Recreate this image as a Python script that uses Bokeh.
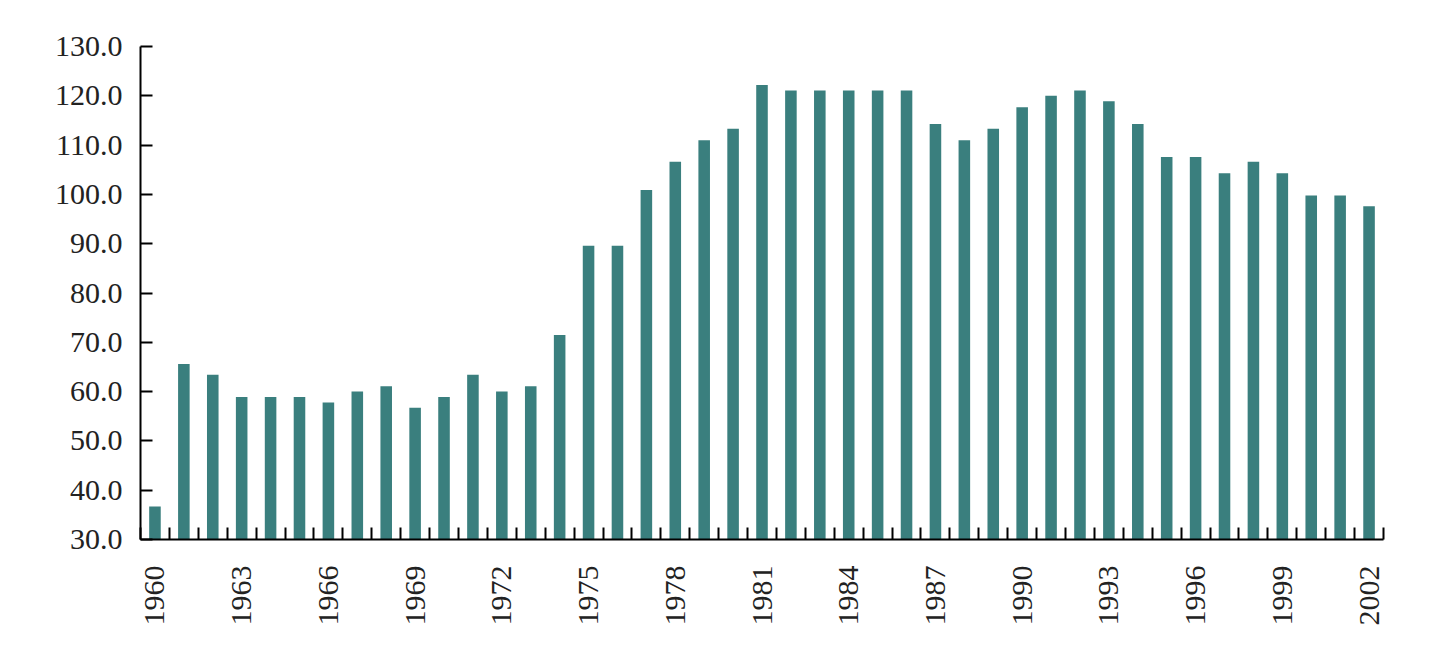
import math
from bokeh.plotting import figure
from bokeh.models import Range1d, FixedTicker, NumeralTickFormatter, ColumnDataSource
from bokeh.embed import file_html
from bokeh.resources import INLINE

years = list(range(1960, 2003))
values = [36.7, 65.6, 63.4, 58.9, 58.9, 58.9, 57.8, 60.0, 61.1, 56.7,
          58.9, 63.4, 60.0, 61.1, 71.5, 89.6, 89.6, 100.9, 106.6, 111.0,
          113.3, 122.2, 121.1, 121.1, 121.1, 121.1, 121.1, 114.3, 111.0, 113.3,
          117.7, 120.0, 121.1, 118.9, 114.3, 107.6, 107.6, 104.3, 106.6, 104.3,
          99.8, 99.8, 97.6]
y_ticks = [30, 40, 50, 60, 70, 80, 90, 100, 110, 120, 130]
label_years = [y for y in years if (y - 1960) % 3 == 0]

FONT = "'Liberation Serif', 'Times New Roman', serif"
BAR = "#3a7f7e"

idx = list(range(len(years)))
src = ColumnDataSource(dict(x=idx, top=values, year=[str(y) for y in years]))

p = figure(width=1429, height=653, output_backend="svg", toolbar_location=None,
           x_range=Range1d(-0.5, len(years) - 0.5), y_range=Range1d(30, 130),
           min_border_left=140, min_border_right=46, min_border_top=46,
           min_border_bottom=114)
p.outline_line_color = None
p.xgrid.grid_line_color = None
p.ygrid.grid_line_color = None

p.vbar(x="x", top="top", bottom=30, width=0.4, source=src,
       fill_color=BAR, line_color=None)

# x axis
xa = p.xaxis[0]
xa.ticker = FixedTicker(ticks=[years.index(y) for y in label_years],
                        minor_ticks=[i - 0.5 for i in range(len(years) + 1)])
xa.major_label_overrides = {years.index(y): str(y) for y in label_years}
xa.major_tick_line_color = None
xa.minor_tick_in = 12
xa.minor_tick_out = 0
xa.minor_tick_line_color = "black"
xa.minor_tick_line_width = 2
xa.axis_line_color = "black"
xa.axis_line_width = 2
xa.major_label_orientation = math.pi / 2
xa.major_label_standoff = 20
xa.major_label_text_font = FONT
xa.major_label_text_font_size = "30px"
xa.major_label_text_color = "#222222"

# y axis
ya = p.yaxis[0]
ya.ticker = FixedTicker(ticks=y_ticks, minor_ticks=[])
ya.formatter = NumeralTickFormatter(format="0.0")
ya.major_tick_in = 12
ya.major_tick_out = 0
ya.major_tick_line_color = "black"
ya.major_tick_line_width = 2
ya.minor_tick_line_color = None
ya.axis_line_color = "black"
ya.axis_line_width = 2
ya.major_label_standoff = 18
ya.major_label_text_font = FONT
ya.major_label_text_font_size = "30px"
ya.major_label_text_color = "#222222"

open("out.html", "w").write(file_html(p, INLINE))
